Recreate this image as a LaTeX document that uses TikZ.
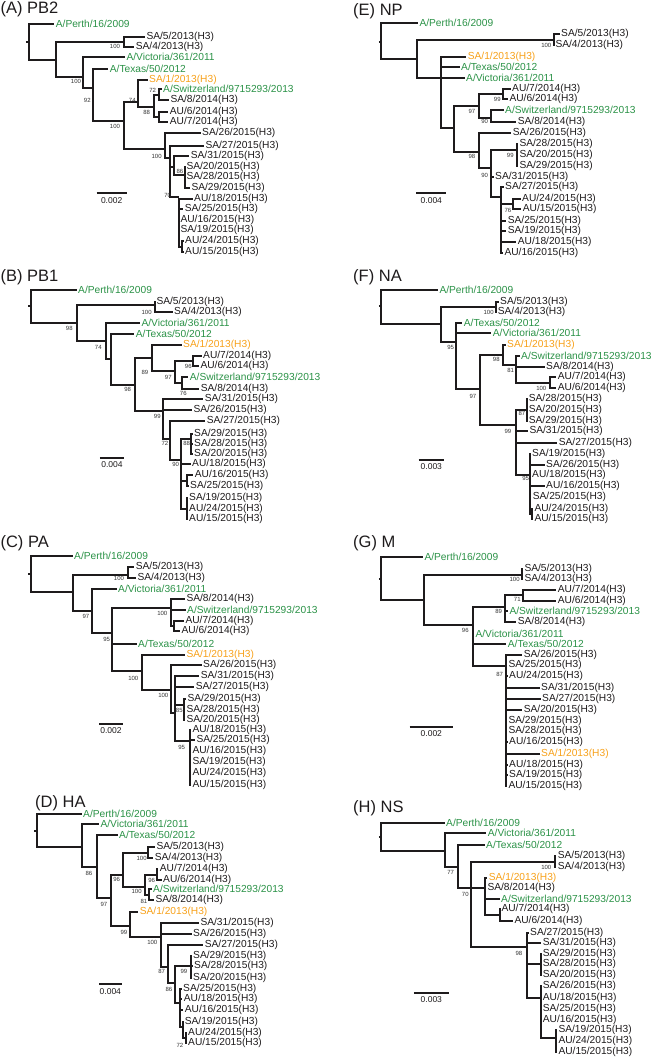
\documentclass[tikz,border=0pt]{standalone}
\usepackage{fontspec}
\setmainfont{Liberation Sans}
\usepackage{tikz}
\definecolor{ink}{HTML}{1E1B1C}
\definecolor{grn}{HTML}{2B9247}
\definecolor{org}{HTML}{F7A11A}
\definecolor{bootc}{HTML}{333333}
\tikzset{
  panel/.style={x=0.3333pt, y=-0.3333pt},
  branch/.style={draw=ink, line width=1.9pt},
  vbranch/.style={draw=ink, line width=1.9pt, line cap=rect},
  leaf/.style={anchor=west, inner sep=0.6pt, font=\fontsize{10.2}{11}\selectfont},
  boot/.style={text=bootc, inner sep=0pt, font=\fontsize{6}{6}\selectfont},
  ttl/.style={anchor=west, inner sep=0pt, text=ink, font=\fontsize{16.5}{18}\selectfont},
  barlab/.style={text=ink, inner sep=0pt, font=\fontsize{8.5}{9}\selectfont},
}
% tree helpers (panel units)
\newcommand{\vbr}[3]{\draw[vbranch] (#1,#2) -- (#1,#3);}
\newcommand{\hbr}[3]{\draw[branch] (#1,#3) -- (#2,#3);}
\newcommand{\tleaf}[5][ink]{\draw[branch] (#2,#4) -- (#3,#4) node[leaf,text=#1] {#5};}
\newcommand{\bval}[3]{\node[boot] at (#1,#2) {#3};}

\begin{document}
\begin{tikzpicture}
\useasboundingbox (0pt,0pt) rectangle (657pt,-1058pt);

% (A) PB2
\begin{scope}[shift={(0pt,0pt)}, panel]
  \node[ttl] (tA) at (1,28) {(A) PB2};
  \hbr{78}{88}{127} \vbr{88}{72}{180}
  \tleaf[grn]{88}{163}{72}{A/Perth/16/2009}
  \hbr{88}{168}{180} \vbr{168}{125}{230}
  \hbr{168}{372}{125} \vbr{372}{110}{142}
  \tleaf{372}{435}{110}{SA/5/2013(H3)}
  \tleaf{372}{403}{142}{SA/4/2013(H3)}
  \bval{345}{140}{100}
  \hbr{168}{250}{230} \bval{228}{243}{100}
  \vbr{250}{172}{265}
  \tleaf[grn]{250}{375}{172}{A/Victoria/361/2011}
  \hbr{250}{278}{265} \bval{262}{300}{92}
  \vbr{278}{207}{362}
  \tleaf[grn]{278}{325}{207}{A/Texas/50/2012}
  \hbr{278}{372}{362} \bval{345}{380}{100}
  \vbr{372}{305}{447}
  \hbr{372}{415}{305} \bval{397}{300}{74}
  \vbr{415}{240}{322}
  \tleaf[org]{415}{443}{240}{SA/1/2013(H3)}
  \hbr{415}{462}{322} \bval{440}{336}{88}
  \vbr{462}{285}{350}
  \hbr{462}{478}{285} \bval{458}{270}{72}
  \vbr{478}{268}{300}
  \tleaf[grn]{478}{485}{268}{A/Switzerland/9715293/2013}
  \tleaf{478}{507}{300}{SA/8/2014(H3)}
  \hbr{462}{478}{350} \vbr{478}{335}{365}
  \tleaf{478}{505}{335}{AU/6/2014(H3)}
  \tleaf{478}{505}{365}{AU/7/2014(H3)}
  \hbr{372}{495}{447} \bval{470}{468}{100}
  \vbr{495}{400}{475}
  \tleaf{495}{602}{400}{SA/26/2015(H3)}
  \hbr{495}{510}{475} \vbr{510}{437}{590}
  \tleaf{510}{612}{437}{SA/27/2015(H3)}
  \hbr{510}{523}{500} \vbr{523}{468}{525}
  \tleaf{523}{568}{468}{SA/31/2015(H3)}
  \hbr{523}{555}{525} \bval{540}{513}{86}
  \vbr{555}{500}{565}
  \tleaf{555}{555}{500}{SA/20/2015(H3)}
  \tleaf{555}{555}{530}{SA/28/2015(H3)}
  \tleaf{555}{570}{565}{SA/29/2015(H3)}
  \hbr{510}{537}{590} \bval{503}{585}{70}
  \vbr{537}{597}{740}
  \tleaf{537}{578}{597}{AU/18/2015(H3)}
  \tleaf{537}{550}{628}{SA/25/2015(H3)}
  \tleaf{537}{537}{660}{AU/16/2015(H3)}
  \tleaf{537}{537}{690}{SA/19/2015(H3)}
  \hbr{537}{545}{740} \vbr{545}{723}{755}
  \tleaf{545}{551}{723}{AU/24/2015(H3)}
  \tleaf{545}{551}{755}{AU/15/2015(H3)}
  \draw[branch] (290,580) -- (380,580);
  \node[barlab] (barA) at (335,603) {0.002};
\end{scope}

% (B) PB1
\begin{scope}[shift={(0pt,-262pt)}, panel]
  \node[ttl] (tB) at (1,45) {(B) PB1};
  \hbr{85}{93}{133} \vbr{93}{85}{183}
  \tleaf[grn]{93}{230}{85}{A/Perth/16/2009}
  \hbr{93}{232}{183} \bval{208}{200}{98}
  \vbr{232}{128}{237}
  \hbr{232}{465}{128} \vbr{465}{120}{150}
  \tleaf{465}{465}{120}{SA/5/2013(H3)}
  \tleaf{465}{518}{150}{SA/4/2013(H3)}
  \bval{440}{150}{100}
  \hbr{232}{318}{237} \bval{295}{255}{74}
  \vbr{318}{182}{292}
  \tleaf[grn]{318}{420}{182}{A/Victoria/361/2011}
  \hbr{318}{332}{292} \vbr{332}{215}{368}
  \tleaf[grn]{332}{403}{215}{A/Texas/50/2012}
  \hbr{332}{405}{368} \bval{383}{383}{98}
  \vbr{405}{288}{447}
  \hbr{405}{455}{288} \bval{435}{330}{89}
  \vbr{455}{250}{328}
  \tleaf[org]{455}{545}{250}{SA/1/2013(H3)}
  \hbr{455}{525}{328} \bval{505}{345}{97}
  \vbr{525}{296}{362}
  \hbr{525}{580}{296} \vbr{580}{283}{312}
  \tleaf{580}{605}{283}{AU/7/2014(H3)}
  \tleaf{580}{597}{312}{AU/6/2014(H3)}
  \bval{565}{312}{96}
  \hbr{525}{545}{362} \vbr{545}{345}{380}
  \tleaf[grn]{545}{565}{345}{A/Switzerland/9715293/2013}
  \tleaf{545}{598}{380}{SA/8/2014(H3)}
  \bval{550}{395}{76}
  \hbr{405}{490}{447} \bval{472}{462}{99}
  \vbr{490}{412}{530}
  \tleaf{490}{610}{412}{SA/31/2015(H3)}
  \tleaf{490}{576}{444}{SA/26/2015(H3)}
  \hbr{490}{510}{530} \bval{495}{545}{72}
  \vbr{510}{477}{595}
  \tleaf{510}{616}{477}{SA/27/2015(H3)}
  \hbr{510}{543}{595} \bval{527}{608}{90}
  \vbr{543}{530}{740}
  \hbr{543}{573}{530} \bval{560}{545}{88}
  \vbr{573}{515}{575}
  \tleaf{573}{578}{515}{SA/29/2015(H3)}
  \tleaf{573}{578}{545}{SA/28/2015(H3)}
  \tleaf{573}{578}{575}{SA/20/2015(H3)}
  \tleaf{543}{572}{607}{AU/18/2015(H3)}
  \hbr{543}{560}{656} \vbr{560}{640}{672}
  \tleaf{560}{580}{640}{AU/16/2015(H3)}
  \tleaf{560}{566}{672}{SA/25/2015(H3)}
  \hbr{543}{560}{740} \vbr{560}{708}{770}
  \tleaf{560}{563}{708}{SA/19/2015(H3)}
  \tleaf{560}{563}{740}{AU/24/2015(H3)}
  \tleaf{560}{563}{770}{AU/15/2015(H3)}
  \draw[branch] (300,587) -- (372,587);
  \node[barlab] (barB) at (336,607) {0.004};
\end{scope}

% (C) PA
\begin{scope}[shift={(0pt,-528pt)}, panel]
  \node[ttl] (tC) at (1,45) {(C) PA};
  \hbr{85}{93}{138} \vbr{93}{85}{192}
  \tleaf[grn]{93}{218}{85}{A/Perth/16/2009}
  \hbr{93}{218}{192} \vbr{218}{140}{250}
  \hbr{218}{385}{140} \vbr{385}{118}{150}
  \tleaf{385}{403}{118}{SA/5/2013(H3)}
  \tleaf{385}{408}{150}{SA/4/2013(H3)}
  \bval{357}{150}{100}
  \hbr{218}{275}{250} \bval{258}{265}{97}
  \vbr{275}{183}{315}
  \tleaf[grn]{275}{350}{183}{A/Victoria/361/2011}
  \hbr{275}{335}{315} \bval{320}{333}{95}
  \vbr{335}{240}{430}
  \hbr{335}{512}{240} \bval{487}{257}{100}
  \vbr{512}{213}{293}
  \tleaf{512}{555}{213}{SA/8/2014(H3)}
  \tleaf[grn]{512}{557}{245}{A/Switzerland/9715293/2013}
  \hbr{512}{522}{293} \vbr{522}{278}{310}
  \tleaf{522}{552}{278}{AU/7/2014(H3)}
  \tleaf{522}{540}{310}{AU/6/2014(H3)}
  \tleaf[grn]{335}{410}{348}{A/Texas/50/2012}
  \hbr{335}{425}{430} \bval{400}{450}{100}
  \vbr{425}{380}{485}
  \tleaf[org]{425}{555}{380}{SA/1/2013(H3)}
  \hbr{425}{512}{485} \bval{490}{502}{100}
  \vbr{512}{410}{555}
  \tleaf{512}{605}{410}{SA/26/2015(H3)}
  \hbr{512}{525}{555} \vbr{525}{445}{640}
  \tleaf{525}{598}{445}{SA/31/2015(H3)}
  \tleaf{525}{583}{477}{SA/27/2015(H3)}
  \hbr{525}{553}{530} \bval{538}{548}{85}
  \vbr{553}{512}{575}
  \tleaf{553}{558}{512}{SA/29/2015(H3)}
  \tleaf{553}{555}{545}{SA/28/2015(H3)}
  \tleaf{553}{555}{575}{SA/20/2015(H3)}
  \hbr{525}{570}{640} \bval{545}{657}{95}
  \vbr{570}{605}{770}
  \tleaf{570}{573}{605}{AU/18/2015(H3)}
  \tleaf{570}{585}{637}{SA/25/2015(H3)}
  \tleaf{570}{573}{668}{AU/16/2015(H3)}
  \tleaf{570}{573}{703}{SA/19/2015(H3)}
  \tleaf{570}{573}{735}{AU/24/2015(H3)}
  \tleaf{570}{573}{770}{AU/15/2015(H3)}
  \draw[branch] (298,587) -- (368,587);
  \node[barlab] (barC) at (333,608) {0.002};
\end{scope}

% (D) HA
\begin{scope}[shift={(0pt,-790pt)}, panel]
  \node[ttl] (tD) at (105,40) {(D) HA};
  \hbr{103}{110}{122} \vbr{110}{72}{170}
  \tleaf[grn]{110}{245}{72}{A/Perth/16/2009}
  \hbr{110}{245}{170} \vbr{245}{103}{232}
  \tleaf[grn]{245}{297}{103}{A/Victoria/361/2011}
  \hbr{245}{290}{232} \bval{267}{250}{86}
  \vbr{290}{135}{325}
  \tleaf[grn]{290}{353}{135}{A/Texas/50/2012}
  \hbr{290}{333}{325} \bval{312}{342}{97}
  \vbr{333}{255}{408}
  \hbr{333}{370}{255} \bval{350}{268}{96}
  \vbr{370}{188}{290}
  \hbr{370}{445}{188} \bval{425}{204}{100}
  \vbr{445}{172}{204}
  \tleaf{445}{465}{172}{SA/5/2013(H3)}
  \tleaf{445}{460}{204}{SA/4/2013(H3)}
  \hbr{370}{435}{290} \bval{410}{305}{100}
  \vbr{435}{255}{315}
  \hbr{435}{470}{255} \bval{455}{272}{96}
  \vbr{470}{238}{270}
  \tleaf{470}{475}{238}{AU/7/2014(H3)}
  \tleaf{470}{485}{270}{AU/6/2014(H3)}
  \hbr{435}{448}{315} \bval{432}{335}{81}
  \vbr{448}{298}{330}
  \tleaf[grn]{448}{455}{298}{A/Switzerland/9715293/2013}
  \tleaf{448}{462}{330}{SA/8/2014(H3)}
  \hbr{333}{390}{408} \bval{372}{428}{99}
  \vbr{390}{367}{440}
  \tleaf[org]{390}{415}{367}{SA/1/2013(H3)}
  \hbr{390}{482}{440} \bval{457}{457}{100}
  \vbr{482}{400}{530}
  \tleaf{482}{597}{400}{SA/31/2015(H3)}
  \tleaf{482}{575}{433}{SA/26/2015(H3)}
  \hbr{482}{505}{530} \bval{485}{545}{87}
  \vbr{505}{465}{580}
  \tleaf{505}{610}{465}{SA/27/2015(H3)}
  \hbr{505}{525}{580} \bval{507}{597}{86}
  \vbr{525}{528}{640}
  \hbr{525}{572}{528} \bval{552}{545}{99}
  \vbr{572}{497}{563}
  \tleaf{572}{575}{497}{SA/29/2015(H3)}
  \tleaf{572}{578}{528}{SA/28/2015(H3)}
  \tleaf{572}{575}{563}{SA/20/2015(H3)}
  \hbr{525}{540}{640} \vbr{540}{597}{712}
  \tleaf{540}{545}{597}{SA/25/2015(H3)}
  \tleaf{540}{547}{628}{AU/18/2015(H3)}
  \tleaf{540}{550}{660}{AU/16/2015(H3)}
  \hbr{540}{548}{712} \vbr{548}{695}{745}
  \tleaf{548}{550}{695}{SA/19/2015(H3)}
  \hbr{548}{558}{745} \vbr{558}{728}{760}
  \tleaf{558}{560}{728}{AU/24/2015(H3)}
  \tleaf{558}{560}{760}{AU/15/2015(H3)}
  \bval{540}{765}{72}
  \draw[branch] (298,583) -- (365,583);
  \node[barlab] (barD) at (331,605) {0.004};
\end{scope}

% (E) NP
\begin{scope}[shift={(328pt,0pt)}, panel]
  \node[ttl] (tE) at (75,35) {(E) NP};
  \hbr{153}{160}{125} \vbr{160}{70}{178}
  \tleaf[grn]{160}{270}{70}{A/Perth/16/2009}
  \hbr{160}{268}{178} \vbr{268}{120}{235}
  \hbr{268}{678}{120} \vbr{678}{102}{135}
  \tleaf{678}{695}{102}{SA/5/2013(H3)}
  \tleaf{678}{678}{135}{SA/4/2013(H3)}
  \bval{655}{137}{100}
  \hbr{268}{338}{235} \vbr{338}{170}{385}
  \tleaf[org]{338}{415}{170}{SA/1/2013(H3)}
  \tleaf[grn]{338}{395}{200}{A/Texas/50/2012}
  \tleaf[grn]{338}{410}{235}{A/Victoria/361/2011}
  \hbr{338}{378}{385} \vbr{378}{318}{455}
  \hbr{378}{452}{318} \bval{432}{333}{97}
  \vbr{452}{283}{355}
  \hbr{452}{525}{283} \bval{508}{298}{99}
  \vbr{525}{268}{298}
  \tleaf{525}{548}{268}{AU/7/2014(H3)}
  \tleaf{525}{540}{298}{AU/6/2014(H3)}
  \hbr{452}{490}{355} \bval{470}{365}{90}
  \vbr{490}{330}{365}
  \tleaf[grn]{490}{527}{330}{A/Switzerland/9715293/2013}
  \tleaf{490}{565}{365}{SA/8/2014(H3)}
  \hbr{378}{452}{455} \bval{432}{470}{98}
  \vbr{452}{398}{505}
  \tleaf{452}{550}{398}{SA/26/2015(H3)}
  \hbr{452}{490}{505} \bval{470}{525}{90}
  \vbr{490}{450}{590}
  \hbr{490}{568}{450} \bval{547}{466}{99}
  \vbr{568}{432}{497}
  \tleaf{568}{570}{432}{SA/28/2015(H3)}
  \tleaf{568}{570}{465}{SA/20/2015(H3)}
  \tleaf{568}{570}{497}{SA/29/2015(H3)}
  \tleaf{490}{497}{530}{SA/31/2015(H3)}
  \hbr{490}{520}{590} \vbr{520}{562}{758}
  \tleaf{520}{527}{562}{SA/27/2015(H3)}
  \hbr{520}{555}{612} \bval{540}{630}{76}
  \vbr{555}{597}{628}
  \tleaf{555}{578}{597}{AU/24/2015(H3)}
  \tleaf{555}{580}{628}{AU/15/2015(H3)}
  \tleaf{520}{535}{662}{SA/25/2015(H3)}
  \tleaf{520}{535}{692}{SA/19/2015(H3)}
  \tleaf{520}{565}{727}{AU/18/2015(H3)}
  \tleaf{520}{525}{758}{AU/16/2015(H3)}
  \draw[branch] (265,580) -- (355,580);
  \node[barlab] (barE) at (310,603) {0.004};
\end{scope}

% (F) NA
\begin{scope}[shift={(328pt,-262pt)}, panel]
  \node[ttl] (tF) at (75,45) {(F) NA};
  \hbr{153}{160}{133} \vbr{160}{85}{185}
  \tleaf[grn]{160}{330}{85}{A/Perth/16/2009}
  \hbr{160}{338}{185} \vbr{338}{135}{240}
  \hbr{338}{505}{135} \vbr{505}{120}{150}
  \tleaf{505}{512}{120}{SA/5/2013(H3)}
  \tleaf{505}{505}{150}{SA/4/2013(H3)}
  \bval{482}{150}{100}
  \hbr{338}{385}{240} \bval{368}{255}{95}
  \vbr{385}{183}{382}
  \tleaf[grn]{385}{403}{183}{A/Texas/50/2012}
  \tleaf[grn]{385}{490}{213}{A/Victoria/361/2011}
  \hbr{385}{455}{382} \bval{435}{402}{97}
  \vbr{455}{280}{490}
  \hbr{455}{525}{280} \bval{505}{292}{98}
  \vbr{525}{250}{310}
  \tleaf[org]{525}{533}{250}{SA/1/2013(H3)}
  \hbr{525}{563}{310} \bval{548}{325}{81}
  \vbr{563}{283}{362}
  \tleaf[grn]{563}{575}{283}{A/Switzerland/9715293/2013}
  \tleaf{563}{650}{315}{SA/8/2014(H3)}
  \hbr{563}{665}{362} \vbr{665}{345}{378}
  \tleaf{665}{685}{345}{AU/7/2014(H3)}
  \tleaf{665}{685}{378}{AU/6/2014(H3)}
  \bval{640}{378}{100}
  \hbr{455}{563}{490} \bval{540}{508}{99}
  \vbr{563}{445}{640}
  \hbr{563}{597}{445} \bval{582}{455}{87}
  \vbr{597}{412}{477}
  \tleaf{597}{598}{412}{SA/28/2015(H3)}
  \tleaf{597}{598}{445}{SA/20/2015(H3)}
  \tleaf{597}{598}{477}{SA/29/2015(H3)}
  \tleaf{563}{600}{508}{SA/31/2015(H3)}
  \tleaf{563}{688}{543}{SA/27/2015(H3)}
  \hbr{563}{607}{640} \bval{593}{650}{95}
  \vbr{607}{575}{755}
  \tleaf{607}{608}{575}{SA/19/2015(H3)}
  \tleaf{607}{650}{608}{SA/26/2015(H3)}
  \tleaf{607}{608}{640}{AU/18/2015(H3)}
  \tleaf{607}{650}{673}{AU/16/2015(H3)}
  \tleaf{607}{610}{705}{SA/25/2015(H3)}
  \hbr{607}{613}{755} \vbr{613}{740}{770}
  \tleaf{613}{615}{740}{AU/24/2015(H3)}
  \tleaf{613}{615}{770}{AU/15/2015(H3)}
  \draw[branch] (272,593) -- (347,593);
  \node[barlab] (barF) at (310,615) {0.003};
\end{scope}

% (G) M
\begin{scope}[shift={(328pt,-528pt)}, panel]
  \node[ttl] (tG) at (75,45) {(G) M};
  \hbr{153}{160}{153} \vbr{160}{88}{215}
  \tleaf[grn]{160}{285}{88}{A/Perth/16/2009}
  \hbr{160}{287}{215} \vbr{287}{140}{292}
  \hbr{287}{583}{140} \vbr{583}{122}{152}
  \tleaf{583}{585}{122}{SA/5/2013(H3)}
  \tleaf{583}{585}{152}{SA/4/2013(H3)}
  \bval{560}{155}{100}
  \hbr{287}{435}{292} \bval{412}{308}{96}
  \vbr{435}{237}{415}
  \hbr{435}{530}{237} \bval{512}{250}{89}
  \vbr{530}{200}{283}
  \hbr{530}{585}{200} \bval{568}{215}{71}
  \vbr{585}{185}{218}
  \tleaf{585}{685}{185}{AU/7/2014(H3)}
  \tleaf{585}{685}{218}{AU/6/2014(H3)}
  \tleaf[grn]{530}{540}{250}{A/Switzerland/9715293/2013}
  \tleaf{530}{565}{283}{SA/8/2014(H3)}
  \tleaf[grn]{435}{438}{317}{A/Victoria/361/2011}
  \tleaf[grn]{435}{535}{348}{A/Texas/50/2012}
  \hbr{435}{535}{415} \bval{515}{438}{87}
  \vbr{535}{380}{775}
  \tleaf{535}{583}{380}{SA/26/2015(H3)}
  \tleaf{535}{537}{412}{SA/25/2015(H3)}
  \tleaf{535}{539}{445}{AU/24/2015(H3)}
  \tleaf{535}{635}{480}{SA/31/2015(H3)}
  \tleaf{535}{638}{512}{SA/27/2015(H3)}
  \tleaf{535}{583}{545}{SA/20/2015(H3)}
  \tleaf{535}{537}{578}{SA/29/2015(H3)}
  \tleaf{535}{537}{608}{SA/28/2015(H3)}
  \tleaf{535}{539}{642}{AU/16/2015(H3)}
  \tleaf[org]{535}{635}{677}{SA/1/2013(H3)}
  \tleaf{535}{539}{710}{AU/18/2015(H3)}
  \tleaf{535}{539}{742}{SA/19/2015(H3)}
  \tleaf{535}{537}{775}{AU/15/2015(H3)}
  \draw[branch] (245,597) -- (375,597);
  \node[barlab] (barG) at (310,618) {0.002};
\end{scope}

% (H) NS
\begin{scope}[shift={(328pt,-790pt)}, panel]
  \node[ttl] (tH) at (75,55) {(H) NS};
  \hbr{153}{160}{142} \vbr{160}{100}{183}
  \tleaf[grn]{160}{350}{100}{A/Perth/16/2009}
  \hbr{160}{350}{183} \vbr{350}{130}{230}
  \tleaf[grn]{350}{475}{130}{A/Victoria/361/2011}
  \hbr{350}{390}{230} \bval{368}{248}{77}
  \vbr{390}{165}{295}
  \tleaf[grn]{390}{470}{165}{A/Texas/50/2012}
  \hbr{390}{430}{295} \bval{412}{312}{70}
  \vbr{430}{215}{470}
  \hbr{430}{680}{215} \vbr{680}{198}{230}
  \tleaf{680}{685}{198}{SA/5/2013(H3)}
  \tleaf{680}{685}{230}{SA/4/2013(H3)}
  \bval{655}{232}{100}
  \hbr{430}{472}{295} \vbr{472}{263}{375}
  \tleaf[org]{472}{478}{263}{SA/1/2013(H3)}
  \tleaf{472}{474}{295}{SA/8/2014(H3)}
  \tleaf[grn]{472}{515}{327}{A/Switzerland/9715293/2013}
  \hbr{472}{515}{375} \vbr{515}{358}{392}
  \tleaf{515}{516}{358}{AU/7/2014(H3)}
  \tleaf{515}{555}{392}{AU/6/2014(H3)}
  \hbr{430}{597}{470} \bval{573}{490}{98}
  \vbr{597}{428}{625}
  \tleaf{597}{602}{428}{SA/27/2015(H3)}
  \tleaf{597}{640}{460}{SA/31/2015(H3)}
  \hbr{597}{638}{523} \vbr{638}{492}{555}
  \tleaf{638}{640}{492}{SA/29/2015(H3)}
  \tleaf{638}{640}{523}{SA/28/2015(H3)}
  \tleaf{638}{640}{555}{SA/20/2015(H3)}
  \hbr{597}{638}{625} \vbr{638}{588}{745}
  \tleaf{638}{640}{588}{SA/26/2015(H3)}
  \tleaf{638}{640}{623}{AU/18/2015(H3)}
  \tleaf{638}{640}{657}{SA/25/2015(H3)}
  \tleaf{638}{640}{690}{AU/16/2015(H3)}
  \hbr{638}{685}{745} \vbr{685}{720}{785}
  \tleaf{685}{687}{720}{SA/19/2015(H3)}
  \tleaf{685}{687}{752}{AU/24/2015(H3)}
  \tleaf{685}{687}{785}{AU/15/2015(H3)}
  \draw[branch] (258,608) -- (362,608);
  \node[barlab] (barH) at (310,630) {0.003};
\end{scope}
\end{tikzpicture}
\end{document}
